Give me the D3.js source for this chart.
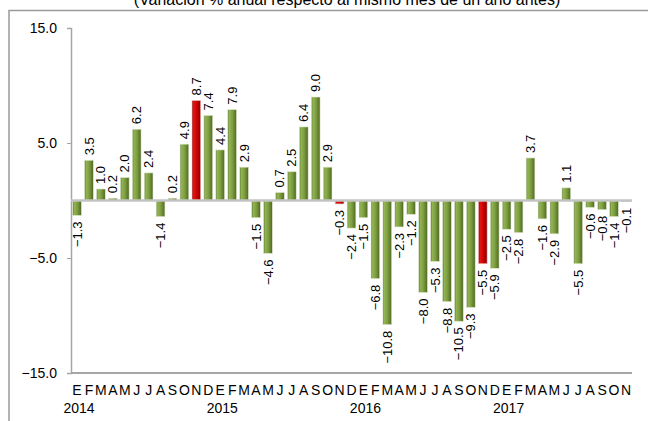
<!DOCTYPE html>
<html>
<head>
<meta charset="utf-8">
<script src="https://cdn.jsdelivr.net/npm/d3@7"></script>
<style>
  body { margin: 0; background: #fff; }
  svg { display: block; font-family: "Liberation Sans", Arial, sans-serif; }
</style>
</head>
<body>
<div id="chart"></div>
<script>
// monthly values, Jan 2014 .. Nov 2017
var months = ["E", "F", "M", "A", "M", "J", "J", "A", "S", "O", "N", "D"];
var years = ["2014", "2015", "2016", "2017"];
var values2014 = [-1.3, 3.5, 1.0, 0.2, 2.0, 6.2, 2.4, -1.4, 0.2, 4.9, 8.7, 7.4];
var values2015 = [4.4, 7.9, 2.9, -1.5, -4.6, 0.7, 2.5, 6.4, 9.0, 2.9, -0.3, -2.4];
var values2016 = [-1.5, -6.8, -10.8, -2.3, -1.2, -8.0, -5.3, -8.8, -10.5, -9.3, -5.5, -5.9];
var values2017 = [-2.5, -2.8, 3.7, -1.6, -2.9, 1.1, -5.5, -0.6, -0.8, -1.4, -0.1];
var highlighted = [10, 22, 34]; // red bars
var yTicks = [15, 5, -5, -15];

var values = values2014.concat(values2015, values2016, values2017);
var data = values.map(function(v, i) {
  return { i: i, value: v, month: months[i % 12], red: highlighted.indexOf(i) >= 0 };
});

var width = 648, height = 421;

var svg = d3.select("#chart").append("svg")
  .attr("width", width)
  .attr("height", height);

// gradients for the 3d-ish bars
var defs = svg.append("defs");
function gradient(id, stops) {
  var g = defs.append("linearGradient").attr("id", id)
    .attr("x1", "0%").attr("x2", "100%").attr("y1", "0%").attr("y2", "0%");
  stops.forEach(function(s) {
    g.append("stop").attr("offset", s[0]).attr("stop-color", s[1]);
  });
}
gradient("gGreen", [["0%", "#5b7a2b"], ["18%", "#93b455"], ["55%", "#7c9c3e"], ["100%", "#4d6822"]]);
gradient("gRed", [["0%", "#990000"], ["20%", "#e31515"], ["60%", "#c80000"], ["100%", "#860000"]]);

// outer frame
svg.append("path")
  .attr("d", "M9," + (height + 2) + "V10.5H" + (width + 2))
  .attr("fill", "none")
  .attr("stroke", "#9a9a9a")
  .attr("stroke-width", 1.5);

// title (cut off at the top, like the source)
svg.append("text")
  .attr("x", 347)
  .attr("y", 5)
  .attr("text-anchor", "middle")
  .style("font-size", "16px")
  .attr("fill", "#000")
  .text("(Variación % anual respecto al mismo mes de un año antes)");

// scales
var x = d3.scaleBand()
  .domain(data.map(function(d) { return d.i; }))
  .range([71, 632])
  .paddingInner(0.27)
  .paddingOuter(0.14);

var y = d3.scaleLinear()
  .domain([-15, 15])
  .range([373, 28]);

// y axis
var yAxis = svg.append("g")
  .attr("transform", "translate(71,0)")
  .call(d3.axisLeft(y).tickValues(yTicks).tickFormat(d3.format(".1f")).tickSize(4).tickPadding(10));
yAxis.select(".domain").attr("stroke", "#a6a6a6").attr("stroke-width", 1.5);
yAxis.selectAll(".tick line").attr("stroke", "#a6a6a6");
yAxis.selectAll("text").style("font-size", "14px").attr("fill", "#000");

// bottom line at -15
svg.append("line")
  .attr("x1", 71).attr("x2", 632)
  .attr("y1", y(-15)).attr("y2", y(-15))
  .attr("stroke", "#a6a6a6")
  .attr("stroke-width", 2);

// bars
svg.append("g").selectAll("rect")
  .data(data)
  .join("rect")
  .attr("x", function(d) { return x(d.i); })
  .attr("width", x.bandwidth())
  .attr("y", function(d) { return y(Math.max(0, d.value)); })
  .attr("height", function(d) { return Math.abs(y(d.value) - y(0)); })
  .attr("fill", function(d) { return d.red ? "url(#gRed)" : "url(#gGreen)"; })
  .attr("stroke", function(d) { return d.red ? "#f0c8c8" : "#dfe8cf"; })
  .attr("stroke-width", 0.6);

// zero line
svg.append("line")
  .attr("x1", 71).attr("x2", 632)
  .attr("y1", y(0)).attr("y2", y(0))
  .attr("stroke", "#c4c4c4")
  .attr("stroke-width", 2.5);

// value labels, rotated
svg.append("g").selectAll("text")
  .data(data)
  .join("text")
  .attr("transform", function(d) {
    var cx = x(d.i) + x.bandwidth() / 2;
    var cy = d.value >= 0 ? y(d.value) - 5 : y(d.value) + 6;
    return "translate(" + cx + "," + cy + ") rotate(-90)";
  })
  .attr("text-anchor", function(d) { return d.value >= 0 ? "start" : "end"; })
  .attr("dy", "0.35em")
  .style("font-size", "13px")
  .attr("fill", "#000")
  .text(function(d) { return d3.format(".1f")(d.value); });

// month letters
svg.append("g").selectAll("text")
  .data(data)
  .join("text")
  .attr("x", function(d) { return x(d.i) + x.bandwidth() / 2; })
  .attr("y", 395)
  .attr("text-anchor", "middle")
  .style("font-size", "14px")
  .attr("fill", "#000")
  .text(function(d) { return d.month; });

// years under january
svg.append("g").selectAll("text")
  .data(years)
  .join("text")
  .attr("x", function(d, k) { return x(k * 12) + x.bandwidth() / 2 + 2; })
  .attr("y", 413)
  .attr("text-anchor", "middle")
  .style("font-size", "14px")
  .attr("fill", "#000")
  .text(function(d) { return d; });
</script>
</body>
</html>
